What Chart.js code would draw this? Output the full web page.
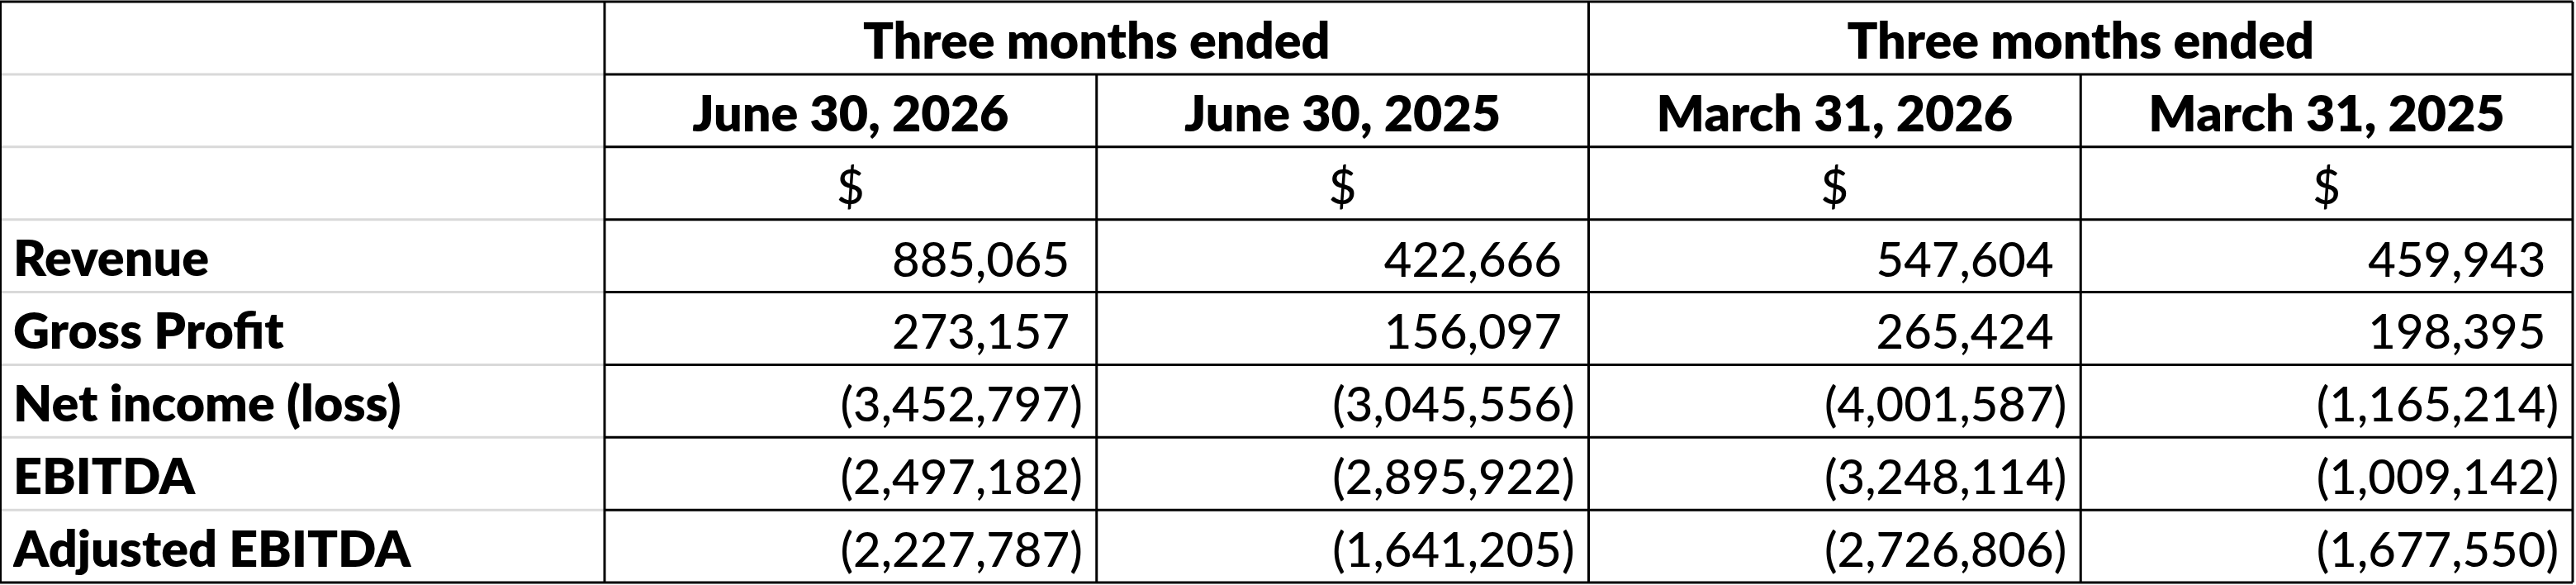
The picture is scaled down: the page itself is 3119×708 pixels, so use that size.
<!DOCTYPE html>
<html>
<head>
<meta charset="utf-8">
<script src="https://cdn.jsdelivr.net/npm/chart.js@4.4.1/dist/chart.umd.min.js"></script>
<style>
  html, body { margin: 0; padding: 0; background: #fff; }
  #wrap { width: 3119px; height: 708px; }
</style>
</head>
<body>
<div id="wrap"><canvas id="resultsTable"></canvas></div>
<script>
// Data from the table
const groupHeaders = ['Three months ended', 'Three months ended'];
const periods = ['June 30, 2026', 'June 30, 2025', 'March 31, 2026', 'March 31, 2025'];
const currency = ['$', '$', '$', '$'];
const metrics = ['Revenue', 'Gross Profit', 'Net income (loss)', 'EBITDA', 'Adjusted EBITDA'];
const revenue = [885065, 422666, 547604, 459943];
const grossProfit = [273157, 156097, 265424, 198395];
const netIncome = [-3452797, -3045556, -4001587, -1165214];
const ebitda = [-2497182, -2895922, -3248114, -1009142];
const adjustedEbitda = [-2227787, -1641205, -2726806, -1677550];

const metricValues = [revenue, grossProfit, netIncome, ebitda, adjustedEbitda];
// 3 header rows on top, then one row per metric
const headerRowKeys = ['group', 'period', 'currency'];
const rowKeys = headerRowKeys.concat(metrics);

const FONT = 'Lato, "Open Sans", sans-serif';
const BOLD_SIZE = 61;
const BOLD_WEIGHT = 800;
const NUM_SIZE = 58;
const NUM_WEIGHT = 500;

function fmt(v) {
    const s = Math.abs(v).toLocaleString('en-US');
    return v < 0 ? '(' + s + ')' : s;
}

const tablePlugin = {
    id: 'tableCells',
    afterDatasetsDraw(chart) {
        const {ctx, chartArea, scales: {x, y}} = chart;
        const colW = x.getPixelForValue(1) - x.getPixelForValue(0);
        const rowH = y.getPixelForValue(1) - y.getPixelForValue(0);
        const colLeft = i => x.getPixelForValue(i) - colW / 2;
        const rowTop = j => y.getPixelForValue(j) - rowH / 2;
        const baseline = j => rowTop(j) + rowH - 19;

        ctx.save();
        ctx.fillStyle = '#000';
        ctx.textBaseline = 'alphabetic';

        // header: group titles (span 2 columns)
        ctx.font = BOLD_WEIGHT + ' ' + BOLD_SIZE + 'px ' + FONT;
        ctx.textAlign = 'center';
        groupHeaders.forEach((g, k) => {
            const cx = (x.getPixelForValue(2 * k) + x.getPixelForValue(2 * k + 1)) / 2;
            ctx.fillText(g, cx, baseline(0));
        });
        // header: periods
        periods.forEach((p, i) => ctx.fillText(p, x.getPixelForValue(i), baseline(1)));
        // header: currency
        ctx.font = NUM_WEIGHT + ' ' + NUM_SIZE + 'px ' + FONT;
        currency.forEach((c, i) => ctx.fillText(c, x.getPixelForValue(i), baseline(2)));

        // values, right aligned like accounting format
        ctx.textAlign = 'right';
        const parenW = ctx.measureText(')').width;
        chart.data.datasets.forEach((ds, d) => {
            chart.getDatasetMeta(d).data.forEach((pt, i) => {
                const v = ds.data[i].v;
                let tx = pt.x + colW / 2 - 17;
                if (v >= 0) tx -= parenW;
                ctx.fillText(fmt(v), tx, pt.y + rowH / 2 - 19);
            });
        });

        // grid lines
        const top = rowTop(0), bottom = rowTop(rowKeys.length);
        const left = chartArea.left, right = chartArea.right;
        ctx.lineWidth = 3;

        // light gridlines in the label column
        ctx.strokeStyle = '#d9d9d9';
        ctx.beginPath();
        for (let j = 1; j < rowKeys.length; j++) {
            ctx.moveTo(0, rowTop(j));
            ctx.lineTo(left, rowTop(j));
        }
        ctx.stroke();

        ctx.strokeStyle = '#000';
        ctx.beginPath();
        // horizontals over the data columns
        for (let j = 0; j <= rowKeys.length; j++) {
            ctx.moveTo(left, rowTop(j));
            ctx.lineTo(right, rowTop(j));
        }
        // outer border of label column
        ctx.moveTo(0, top); ctx.lineTo(left, top);
        ctx.moveTo(0, bottom); ctx.lineTo(left, bottom);
        // verticals
        [0, 2].forEach(i => { ctx.moveTo(colLeft(i), top); ctx.lineTo(colLeft(i), bottom); });
        [1, 3].forEach(i => { ctx.moveTo(colLeft(i), rowTop(1)); ctx.lineTo(colLeft(i), bottom); });
        ctx.moveTo(right, top); ctx.lineTo(right, bottom);
        ctx.stroke();

        ctx.lineWidth = 2;
        ctx.beginPath();
        ctx.moveTo(1, top); ctx.lineTo(1, bottom);
        ctx.stroke();
        ctx.restore();
    }
};

new Chart(document.getElementById('resultsTable'), {
    type: 'scatter',
    data: {
        datasets: metrics.map((m, r) => ({
            label: m,
            data: periods.map((p, i) => ({x: p, y: m, v: metricValues[r][i]})),
            pointRadius: 0,
            pointHoverRadius: 0
        }))
    },
    options: {
        responsive: true,
        maintainAspectRatio: false,
        animation: false,
        devicePixelRatio: 1,
        events: [],
        layout: {padding: {left: 16, right: 4, top: 2, bottom: 3}},
        scales: {
            x: {
                type: 'category',
                labels: periods,
                offset: true,
                display: false
            },
            y: {
                type: 'category',
                labels: rowKeys,
                offset: true,
                grid: {display: false},
                border: {display: false},
                afterFit: scale => {
                    scale.width = 716;
                    // rows must fill the full height
                    scale.paddingTop = 0;
                    scale.paddingBottom = 0;
                },
                ticks: {
                    autoSkip: false,
                    crossAlign: 'far',
                    padding: 0,
                    labelOffset: 5,
                    color: '#000',
                    font: {family: FONT, size: BOLD_SIZE, weight: BOLD_WEIGHT},
                    callback: function (value, index) {
                        return index < headerRowKeys.length ? '' : this.getLabelForValue(value);
                    }
                }
            }
        },
        plugins: {
            legend: {display: false},
            tooltip: {enabled: false}
        }
    },
    plugins: [tablePlugin]
});
</script>
</body>
</html>
